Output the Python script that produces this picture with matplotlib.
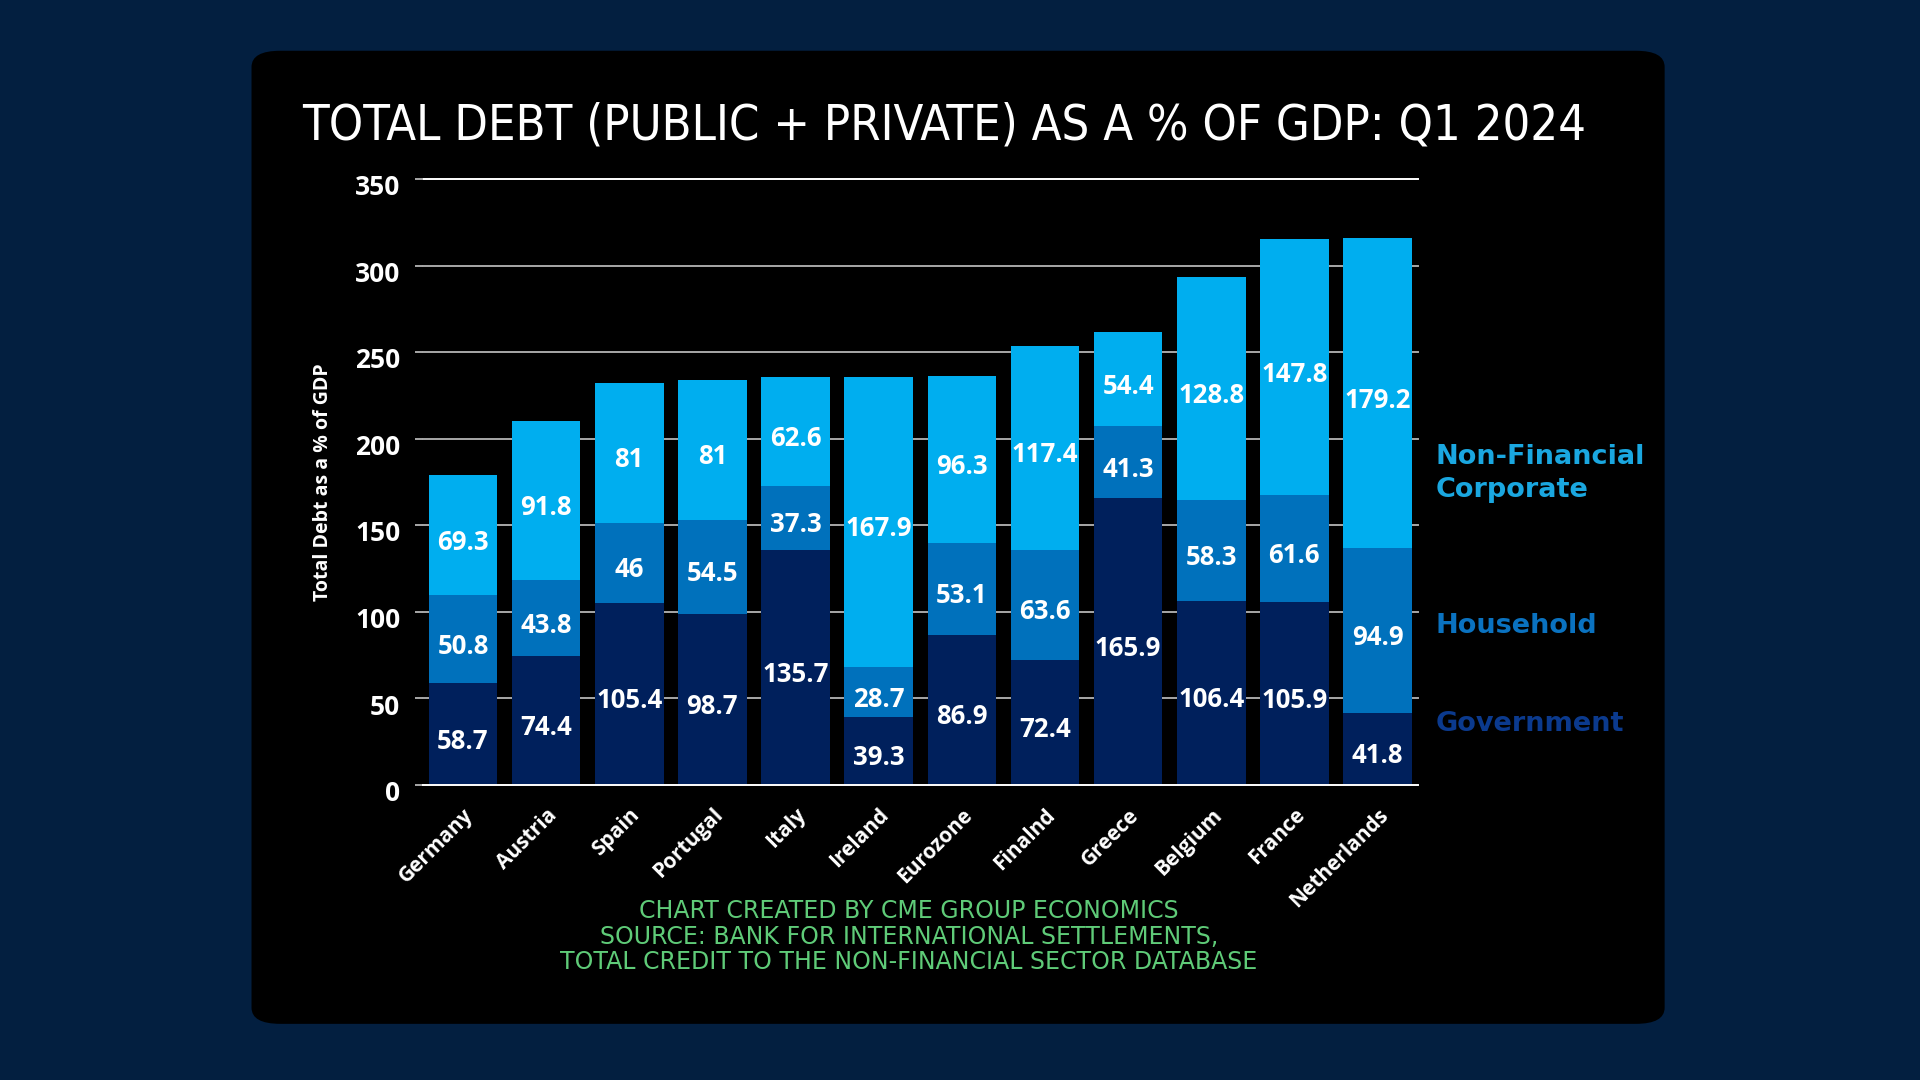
import numpy as np
import matplotlib
matplotlib.use("Agg")
import matplotlib.pyplot as plt
from matplotlib.patches import FancyBboxPatch
from matplotlib.transforms import ScaledTranslation

# data (% of GDP, Q1 2024)
countries = ["Germany", "Austria", "Spain", "Portugal", "Italy", "Ireland",
             "Eurozone", "Finalnd", "Greece", "Belgium", "France", "Netherlands"]
government = [58.7, 74.4, 105.4, 98.7, 135.7, 39.3, 86.9, 72.4, 165.9, 106.4, 105.9, 41.8]
household = [50.8, 43.8, 46, 54.5, 37.3, 28.7, 53.1, 63.6, 41.3, 58.3, 61.6, 94.9]
corporate = [69.3, 91.8, 81, 81, 62.6, 167.9, 96.3, 117.4, 54.4, 128.8, 147.8, 179.2]
series_names = ["Government", "Household", "Non-Financial\nCorporate"]
yticks = [0, 50, 100, 150, 200, 250, 300, 350]

c_gov = "#00205c"
c_hh = "#0071bc"
c_corp = "#00aeef"
bg = "#031f40"

fig = plt.figure(figsize=(19.2, 10.8), dpi=100, facecolor=bg)

# black rounded card behind everything
card = FancyBboxPatch((0.131, 0.052), 0.736, 0.901,
                      boxstyle="round,pad=0,rounding_size=0.015",
                      transform=fig.transFigure, facecolor="black",
                      edgecolor="none", zorder=-5)
fig.patches.append(card)

ax = fig.add_axes([0.2201, 0.2731, 0.5184, 0.5611])
ax.set_zorder(2)
ax.set_facecolor("black")

x = np.arange(len(countries))
gov = np.array(government)
hh = np.array(household)
corp = np.array(corporate)
w = 0.825

ax.bar(x, gov, w, color=c_gov, zorder=3)
ax.bar(x, hh, w, bottom=gov, color=c_hh, zorder=3)
ax.bar(x, corp, w, bottom=gov + hh, color=c_corp, zorder=3)

for i in range(len(countries)):
    for bottom, val in [(0, gov[i]), (gov[i], hh[i]), (gov[i] + hh[i], corp[i])]:
        ax.annotate(f"{val:g}", (x[i], bottom + val / 2), xytext=(0, -5),
                    textcoords="offset points", ha="center", va="center",
                    color="white", fontsize=18.5, fontweight="bold",
                    family="Open Sans", zorder=4)

ax.set_xlim(-0.486, len(countries) - 0.514)
ax.set_ylim(0, 350)
ax.set_yticks(yticks)
for yv in yticks:
    col = "white" if yv in (0, 350) else "#a8a8a8"
    ax.axhline(yv, color=col, lw=1.4, zorder=5 if yv == 0 else 1, clip_on=False)

for s in ax.spines.values():
    s.set_visible(False)
ax.tick_params(axis="y", length=6, color="#a8a8a8", width=1.4, pad=10,
               labelcolor="white", labelsize=19)
shift = ScaledTranslation(0, -4 / 72, fig.dpi_scale_trans)
for t in ax.get_yticklabels():
    t.set_fontweight("bold")
    t.set_family("Open Sans")
    t.set_transform(t.get_transform() + shift)

ax.set_xticks(x)
ax.set_xticklabels(countries, rotation=45, ha="right", rotation_mode="anchor",
                   color="white", fontsize=15, fontweight="bold", family="Open Sans")
ax.tick_params(axis="x", length=0, pad=14)

ax.set_ylabel("Total Debt as a % of GDP", color="white", fontsize=14,
              fontweight="bold", family="Open Sans", labelpad=16)

fig.text(0.4917, 0.884, "TOTAL DEBT (PUBLIC + PRIVATE) AS A % OF GDP: Q1 2024",
         ha="center", va="center", color="white", fontsize=35,
         family="DejaVu Sans", fontstretch="condensed")

# legend labels at the right side
fig.text(0.7475, 0.330, series_names[0], color="#0b3a8e", fontsize=19.5,
         fontweight="bold", va="center", ha="left")
fig.text(0.7475, 0.420, series_names[1], color="#0a72c0", fontsize=19.5,
         fontweight="bold", va="center", ha="left")
fig.text(0.7475, 0.5615, series_names[2], color="#1aa7e0", fontsize=19.5,
         fontweight="bold", va="center", ha="left", linespacing=1.35)

foot = ["CHART CREATED BY CME GROUP ECONOMICS",
        "SOURCE: BANK FOR INTERNATIONAL SETTLEMENTS,",
        "TOTAL CREDIT TO THE NON-FINANCIAL SECTOR DATABASE"]
for k, line in enumerate(foot):
    fig.text(0.4735, 0.1565 - k * 0.0238, line, ha="center", va="center",
             color="#5fcb78", fontsize=17, family="DejaVu Sans")

fig.savefig("out.png", dpi=100, facecolor=bg)
